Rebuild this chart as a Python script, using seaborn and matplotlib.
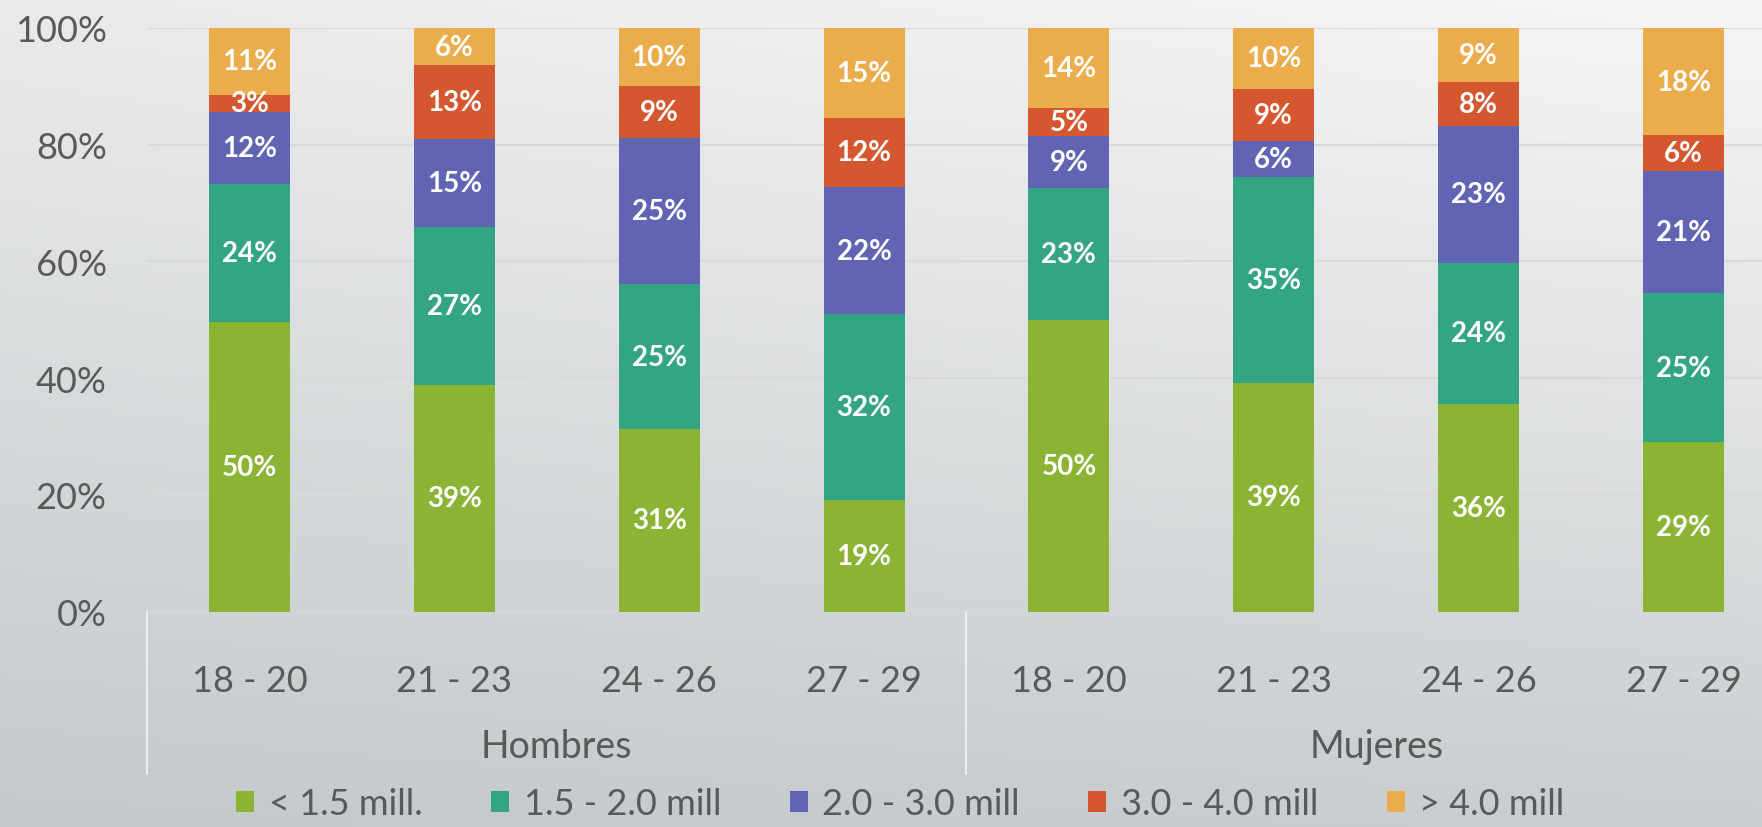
import matplotlib.pyplot as plt
import seaborn as sns
import numpy as np
import pandas as pd
from matplotlib.patches import Patch

# datos (% por tramo de ingreso)
grupos = ['Hombres', 'Mujeres']
edades = ['18 - 20', '21 - 23', '24 - 26', '27 - 29']
tramos = ['< 1.5 mill.', '1.5 - 2.0 mill', '2.0 - 3.0 mill', '3.0 - 4.0 mill', '> 4.0 mill']

menos_15 = [49.6, 38.9, 31.2, 19.1, 49.9, 39.1, 35.6, 29.1]
de_15_20 = [23.7, 27.0, 25.0, 31.8, 22.7, 35.3, 24.2, 25.4]
de_20_30 = [12.3, 15.0, 25.0, 21.9, 8.9, 6.3, 23.4, 21.0]
de_30_40 = [3.0, 12.7, 8.9, 11.8, 4.8, 8.9, 7.6, 6.1]
mas_40 = [11.4, 6.4, 9.9, 15.4, 13.7, 10.4, 9.2, 18.4]

colores = ['#8BB334', '#34A584', '#6163B3', '#D45730', '#EBAC4C']
series = [menos_15, de_15_20, de_20_30, de_30_40, mas_40]

claves = [g + ' ' + e for g in grupos for e in edades]
df = pd.DataFrame({t: np.array(s) / 100 for t, s in zip(tramos, series)}, index=claves)
acum = df.cumsum(axis=1)

sns.set_theme(style='white')
plt.rcParams['font.family'] = ['Lato', 'DejaVu Sans']
gris = '#595959'

fig = plt.figure(figsize=(17.62, 8.28), dpi=100)

# fondo degradado
fondo = fig.add_axes([0, 0, 1, 1], zorder=-10)
yy, xx = np.mgrid[0:1:200j, 0:1:200j]
tl = np.array([233, 234, 235]) / 255
tr = np.array([246, 246, 246]) / 255
bl = np.array([196, 201, 203]) / 255
br = np.array([202, 206, 208]) / 255
img = (tl * ((1 - xx) * (1 - yy))[..., None] + tr * (xx * (1 - yy))[..., None]
       + bl * ((1 - xx) * yy)[..., None] + br * (xx * yy)[..., None])
fondo.imshow(img, aspect='auto', extent=[0, 1, 0, 1])
fondo.axis('off')

ax = fig.add_axes([147 / 1762, 215.5 / 828, 1639 / 1762, 583.5 / 828])
ax.set_facecolor('none')

# barras apiladas: se dibuja desde el acumulado mayor hacia abajo
for i in range(len(tramos) - 1, -1, -1):
    sns.barplot(x=claves, y=acum.iloc[:, i].values, order=claves, color=colores[i],
                saturation=1, width=0.395, linewidth=0, ax=ax, zorder=3)

# etiquetas de datos
for j, k in enumerate(claves):
    base = 0
    for t in tramos:
        v = df.loc[k, t]
        ax.text(j, base + v / 2, '{:.0f}%'.format(v * 100), ha='center', va='center',
                color='white', fontsize=20, fontweight='bold', zorder=5)
        base += v

ax.set_ylim(0, 1)
ax.set_xlim(-0.5, 7.5)
ax.set_yticks(np.arange(0, 1.01, 0.2))
ax.set_yticklabels(['{:.0f}%'.format(v * 100) for v in np.arange(0, 1.01, 0.2)])
ax.set_xticks(range(len(claves)))
ax.set_xticklabels(edades * 2)
ax.tick_params(axis='y', length=0, pad=29, labelsize=26, labelcolor=gris)
ax.tick_params(axis='x', length=0, pad=38, labelsize=26, labelcolor=gris)
ax.yaxis.grid(True, color='#D9D9D9', lw=1.6, zorder=0)
ax.set_axisbelow(True)
sns.despine(ax=ax, left=True, bottom=True, top=True, right=True)
ax.set_xlabel('')
ax.set_ylabel('')

# etiquetas de grupo y separadores
tr_x = ax.get_xaxis_transform()
for g, centro in zip(grupos, [1.5, 5.5]):
    ax.text(centro, -0.2305, g, transform=tr_x, ha='center', va='center',
            fontsize=27, color=gris)
for xs in [-0.5, 3.5, 7.5]:
    ax.plot([xs, xs], [0, -0.279], transform=tr_x, color='#EEEEEE', lw=1.5, clip_on=False)

# leyenda
handles = [Patch(facecolor=c, edgecolor='none') for c in colores]
fig.legend(handles, tramos, loc='center', bbox_to_anchor=(0.511, 0.028), ncol=5,
           frameon=False, fontsize=26, labelcolor=gris, handlelength=0.5, handleheight=0.5,
           handletextpad=0.4, columnspacing=1.9)

fig.savefig('out.png', dpi=100)
